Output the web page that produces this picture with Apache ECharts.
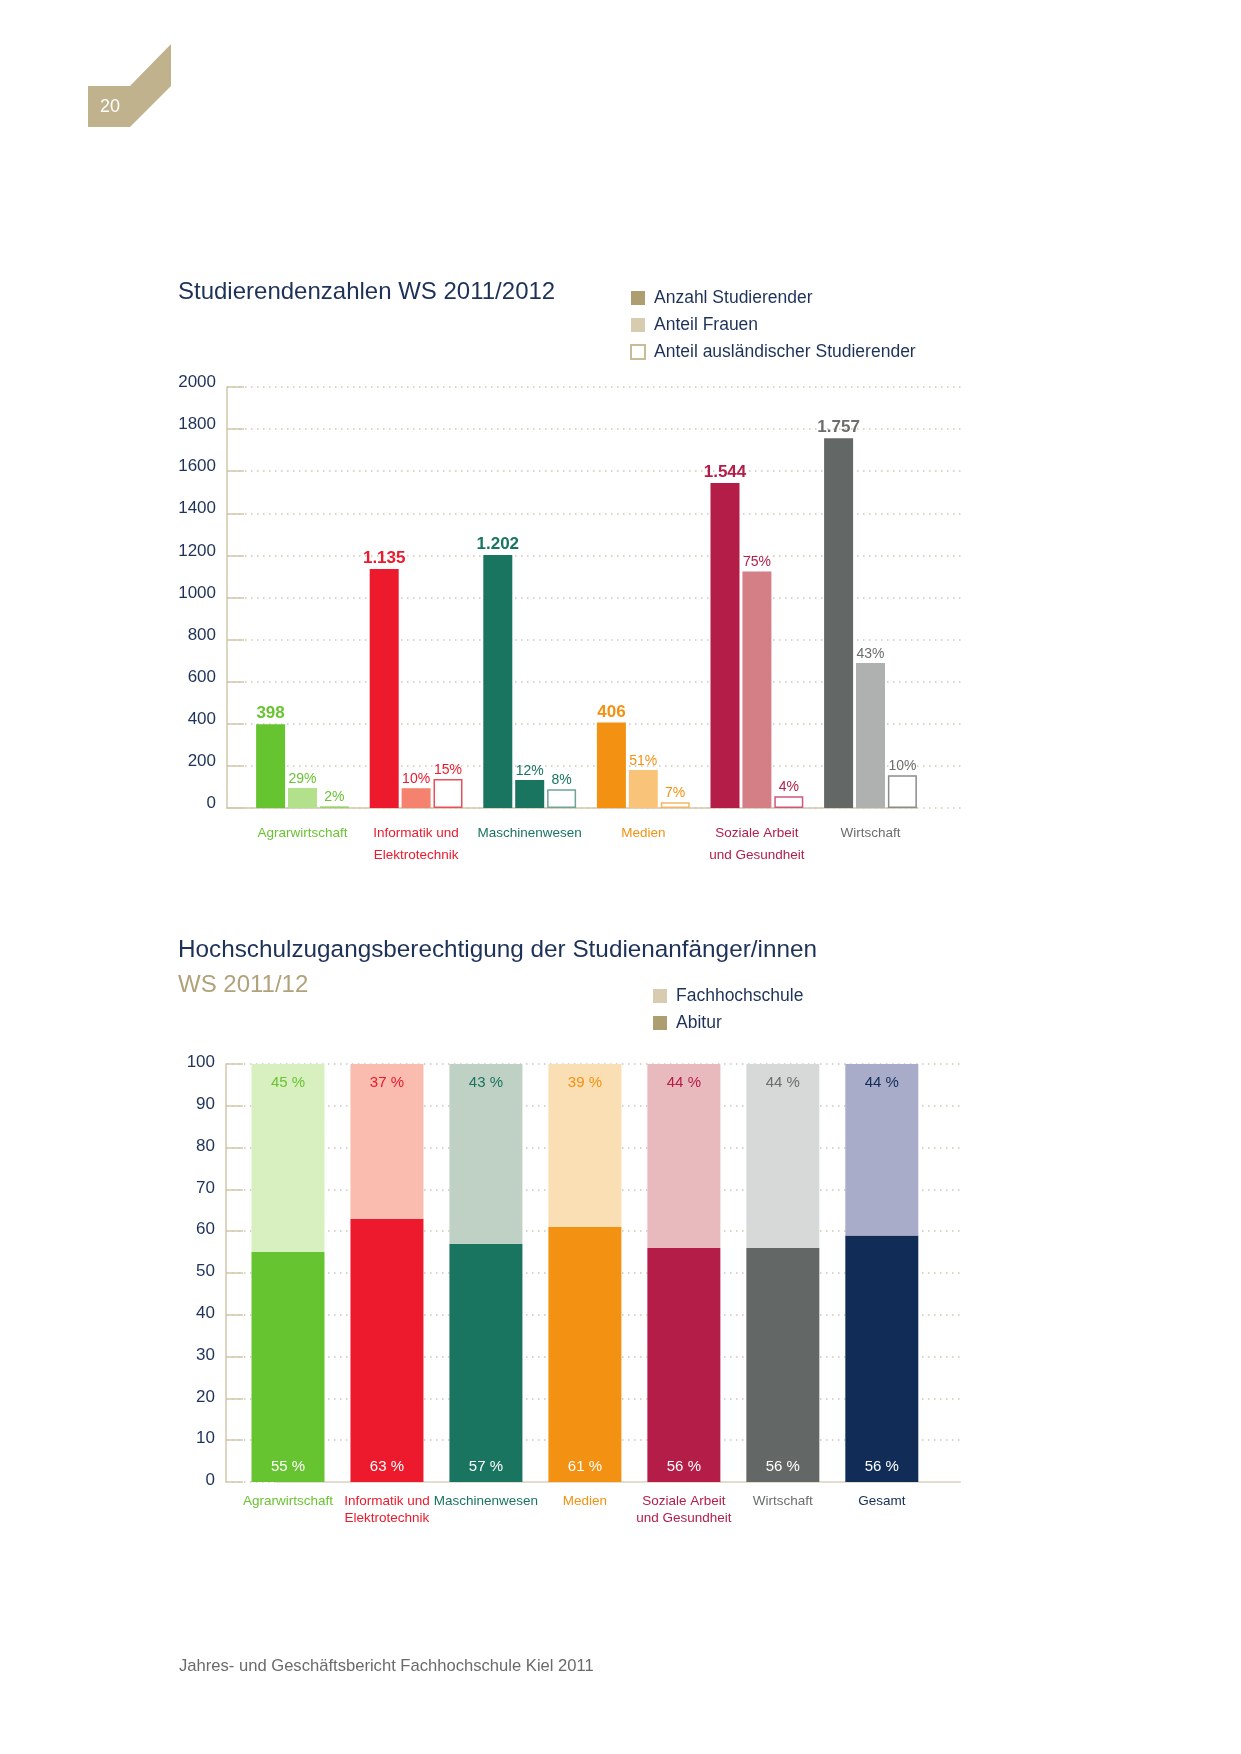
<!DOCTYPE html>
<html><head><meta charset="utf-8">
<script src="https://cdn.jsdelivr.net/npm/echarts@6/dist/echarts.min.js"></script>
<style>html,body{margin:0;padding:0;background:#fff}#c{width:1241px;height:1754px}</style>
</head><body><div id="c"></div>
<script>
// ---------- DATA ----------
const categories1 = ['Agrarwirtschaft','Informatik und\nElektrotechnik','Maschinenwesen','Medien','Soziale Arbeit\nund Gesundheit','Wirtschaft'];
const students = [398, 1135, 1202, 406, 1544, 1757];
const studentLabels = ['398','1.135','1.202','406','1.544','1.757'];
const womenBar = [95, 94, 133, 181, 1124, 689];
const womenLabels = ['29%','10%','12%','51%','75%','43%'];
const foreignBar = [8, 138, 89, 27, 56, 156];
const foreignLabels = ['2%','15%','8%','7%','4%','10%'];

const categories2 = ['Agrarwirtschaft','Informatik und\nElektrotechnik','Maschinenwesen','Medien','Soziale Arbeit\nund Gesundheit','Wirtschaft','Gesamt'];
const abitur = [55, 63, 57, 61, 56, 56, 59];
const abiturLabels = ['55 %','63 %','57 %','61 %','56 %','56 %','56 %'];
const fachhochschule = [45, 37, 43, 39, 44, 44, 41];
const fachhochschuleLabels = ['45 %','37 %','43 %','39 %','44 %','44 %','44 %'];

// ---------- STYLES ----------
const FONT = "'Liberation Sans', Arial, sans-serif";
const NAVY = '#1E3259';
const TAN = '#AD9D71', TAN_LIGHT = '#D8CCB0', AXIS = '#D2C7AB', GRIDC = '#cfc8b6';
const main1 = ['#67C431','#EC1A2C','#197460','#F39112','#B41D48','#636866'];
const light1 = ['#B3E08A','#F4826F','#197460','#F9C47A','#D47E86','#AEB1B0'];
const outline1 = ['#9AD36A','#E8505B','#6FA597','#F5B565','#D0577A','#8C8C8C'];
const text1 = ['#6AC332','#EC1A2C','#197460','#F39112','#B41D48','#6b6e6d'];
const dark2 = ['#67C431','#EC1A2C','#197460','#F39112','#B41D48','#636866','#112D57'];
const light2 = ['#D8EFC0','#F9BCAF','#BFD0C4','#FBDFB4','#E8B9BD','#D7D9D8','#A9ACC9'];
const text2 = ['#6AC332','#EC1A2C','#197460','#F39112','#B41D48','#6b6e6d','#112D57'];

const chart = echarts.init(document.getElementById('c'), null, {renderer:'canvas'});

const hidden = {show:false};
const dotted = {show:true, lineStyle:{color:GRIDC, width:1.5, type:[1.5,4.5]}};

const option = {
  animation:false,
  backgroundColor:'#fff',
  textStyle:{fontFamily:FONT},
  grid:[
    {left:227, top:387, width:735, height:421},   // 0 chart1 axis+grid
    {left:227, top:387, width:690, height:421},   // 1 chart1 baseline
    {left:245.7, top:387, width:681.6, height:421}, // 2 chart1 bars
    {left:226, top:1064, width:734, height:418},  // 3 chart2 axis+grid
    {left:277, top:1064, width:683, height:418},  // 4 chart2 baseline
    {left:238.5, top:1064, width:692.8, height:418} // 5 chart2 bars
  ],
  xAxis:[
    {gridIndex:0, type:'value', min:0, max:1, show:false},
    {gridIndex:1, type:'value', min:0, max:1, axisLine:{show:true, lineStyle:{color:AXIS, width:1.5}}, axisTick:hidden, axisLabel:hidden, splitLine:hidden},
    {gridIndex:2, type:'category', data:categories1.map((c,i)=>({value:c, textStyle:{color:text1[i]}})),
      axisLine:hidden, axisTick:hidden,
      axisLabel:{interval:0, margin:14, fontSize:13.5, lineHeight:22, fontFamily:FONT}},
    {gridIndex:3, type:'value', min:0, max:1, show:false},
    {gridIndex:4, type:'value', min:0, max:1, axisLine:{show:true, lineStyle:{color:'#E3DDD0', width:2}}, axisTick:hidden, axisLabel:hidden, splitLine:hidden},
    {gridIndex:5, type:'category', data:categories2.map((c,i)=>({value:c, textStyle:{color:text2[i]}})),
      axisLine:hidden, axisTick:hidden,
      axisLabel:{interval:0, margin:11, fontSize:13.5, lineHeight:17, fontFamily:FONT}}
  ],
  yAxis:[
    {gridIndex:0, type:'value', min:0, max:2000, interval:200,
      axisLine:{show:true, lineStyle:{color:AXIS, width:1.5}},
      axisTick:{show:true, inside:true, length:17, lineStyle:{color:AXIS, width:1.5}},
      axisLabel:{margin:11, fontSize:17, color:NAVY, fontFamily:FONT, verticalAlign:'bottom', lineHeight:9, formatter:v=>String(v)},
      splitLine:dotted},
    {gridIndex:1, type:'value', min:0, max:2000, show:false},
    {gridIndex:2, type:'value', min:0, max:2000, show:false},
    {gridIndex:3, type:'value', min:0, max:100, interval:10,
      axisLine:{show:true, lineStyle:{color:AXIS, width:1.5}},
      axisTick:{show:true, inside:true, length:17, lineStyle:{color:AXIS, width:1.5}},
      axisLabel:{margin:11, fontSize:17, color:NAVY, fontFamily:FONT, verticalAlign:'bottom', lineHeight:3, formatter:v=>String(v)},
      splitLine:dotted},
    {gridIndex:4, type:'value', min:0, max:100, show:false},
    {gridIndex:5, type:'value', min:0, max:100, show:false}
  ],
  legend:[
    {data:['Anzahl Studierender','Anteil Frauen','Anteil ausländischer Studierender'],
      orient:'vertical', left:630, top:288, padding:0, itemWidth:14, itemHeight:14, itemGap:7, icon:'rect', selectedMode:false,
      textStyle:{fontSize:17.5, lineHeight:20, color:NAVY, fontFamily:FONT, padding:[0,0,0,4]}},
    {data:['Fachhochschule','Abitur'],
      orient:'vertical', left:653, top:986, padding:0, itemWidth:14, itemHeight:14, itemGap:7, icon:'rect', selectedMode:false,
      textStyle:{fontSize:17.5, lineHeight:20, color:NAVY, fontFamily:FONT, padding:[0,0,0,4]}}
  ],
  series:[
    {name:'Anzahl Studierender', type:'bar', xAxisIndex:2, yAxisIndex:2, barWidth:29, barGap:'10%',
      itemStyle:{color:TAN},
      label:{show:true, position:'top', distance:2, fontSize:17, fontWeight:'bold', fontFamily:FONT, formatter:p=>studentLabels[p.dataIndex]},
      data:students.map((v,i)=>({value:v, itemStyle:{color:main1[i]}, label:{color:text1[i]}}))},
    {name:'Anteil Frauen', type:'bar', xAxisIndex:2, yAxisIndex:2, barWidth:29, barGap:'10%',
      itemStyle:{color:TAN_LIGHT},
      label:{show:true, position:'top', distance:2, fontSize:14, fontFamily:FONT, formatter:p=>womenLabels[p.dataIndex]},
      data:womenBar.map((v,i)=>({value:v, itemStyle:{color:light1[i]}, label:{color:text1[i]}}))},
    {name:'Anteil ausländischer Studierender', type:'bar', xAxisIndex:2, yAxisIndex:2, barWidth:29, barGap:'10%',
      itemStyle:{color:'#fff', borderColor:'#C8BC98', borderWidth:1.5},
      label:{show:true, position:'top', distance:2, fontSize:14, fontFamily:FONT, formatter:p=>foreignLabels[p.dataIndex]},
      data:foreignBar.map((v,i)=>({value:v, itemStyle:{color:'#fff', borderColor:outline1[i], borderWidth:1.5}, label:{color:text1[i]}}))},
    {name:'Abitur', type:'bar', stack:'hzb', xAxisIndex:5, yAxisIndex:5, barWidth:73,
      itemStyle:{color:TAN},
      label:{show:true, position:'insideBottom', distance:8, fontSize:15, color:'#fff', fontFamily:FONT, formatter:p=>abiturLabels[p.dataIndex]},
      data:abitur.map((v,i)=>({value:v, itemStyle:{color:dark2[i]}}))},
    {name:'Fachhochschule', type:'bar', stack:'hzb', xAxisIndex:5, yAxisIndex:5, barWidth:73,
      itemStyle:{color:TAN_LIGHT},
      label:{show:true, position:'insideTop', distance:11, fontSize:15, fontFamily:FONT, formatter:p=>fachhochschuleLabels[p.dataIndex]},
      data:fachhochschule.map((v,i)=>({value:v, itemStyle:{color:light2[i]}, label:{color:text2[i]}}))}
  ],
  graphic:[
    {type:'polygon', shape:{points:[[88,86],[130,86],[171,44],[171,86],[130,127],[88,127]]}, style:{fill:'#C0B28D'}},
    {type:'text', x:110, y:107, style:{text:'20', fill:'#fff', font:"18px "+FONT, align:'center', verticalAlign:'middle'}},
    {type:'text', x:178, y:292, style:{text:'Studierendenzahlen WS 2011/2012', fill:NAVY, font:"24px "+FONT, verticalAlign:'middle'}},
    {type:'text', x:178, y:950, style:{text:'Hochschulzugangsberechtigung der Studienanfänger/innen', fill:NAVY, font:"24.3px "+FONT, verticalAlign:'middle'}},
    {type:'text', x:178, y:985, style:{text:'WS 2011/12', fill:'#B0A27A', font:"24px "+FONT, verticalAlign:'middle'}},
    {type:'text', x:179, y:1666, style:{text:'Jahres- und Geschäftsbericht Fachhochschule Kiel 2011', fill:'#6a6a6a', font:"16.6px "+FONT, verticalAlign:'middle'}}
  ]
};
chart.setOption(option);
</script></body></html>
